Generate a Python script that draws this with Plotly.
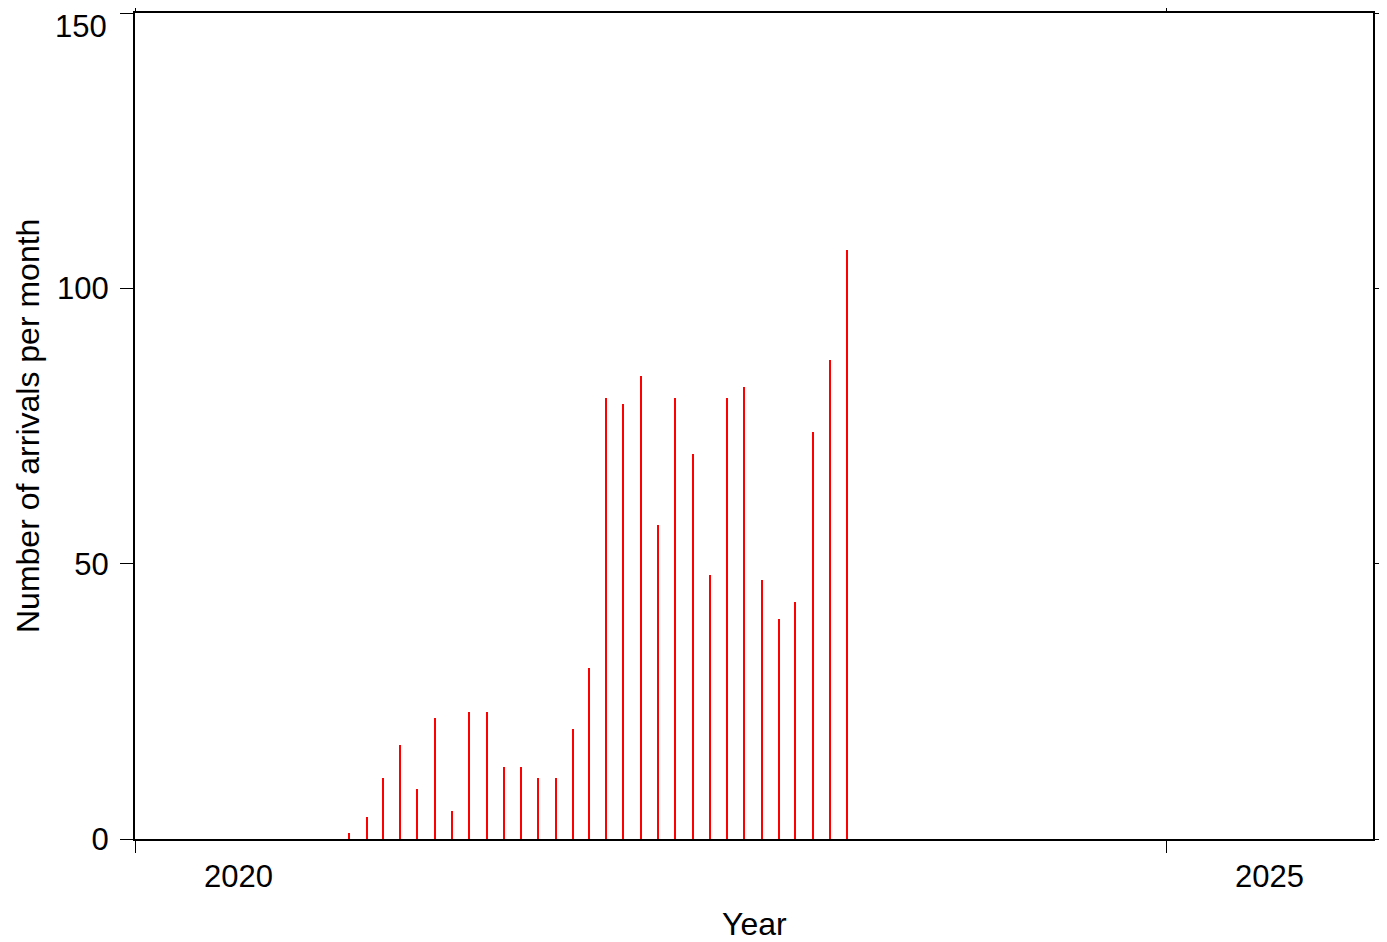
import plotly.graph_objects as go

# Monthly arrival counts, Jan 2021 - Jun 2023
months = [f"{y}-{m:02d}-15" for y in (2021, 2022, 2023) for m in range(1, 13)][:30]
counts = [1, 4, 11, 17, 9, 22, 5, 23, 23, 13, 13, 11,
          11, 20, 31, 80, 79, 84, 57, 80, 70, 48, 80, 82,
          47, 40, 43, 74, 87, 107]

year_labels = ["2020", "2025"]
year_label_pos = ["2020-07-02", "2025-07-02"]
year_ticks = ["2020-01-01", "2025-01-01"]
y_ticks = [0, 50, 100, 150]
y_ticktext = ["0", "50", "100", ""]   # "150" drawn separately so it is not clipped

FONT = "Liberation Sans, Arial, Helvetica, sans-serif"
DAY_MS = 86400000

fig = go.Figure()
fig.add_trace(go.Bar(
    x=months, y=counts,
    width=[2.4 * DAY_MS] * len(counts),
    marker=dict(color="#ff0000", line=dict(width=0)),
    showlegend=False,
))

# page body has an 8px margin, so the plot area is placed 8px up/left
fig.update_layout(
    width=1387, height=942,
    margin=dict(l=127, r=22, t=5, b=111, autoexpand=False),
    paper_bgcolor="white", plot_bgcolor="white",
    font=dict(family=FONT, size=31, color="black"),
    bargap=0,
    xaxis=dict(
        type="date",
        range=["2020-01-01", "2026-01-01"],
        tickvals=year_ticks,
        showticklabels=False,
        ticks="outside", ticklen=12, tickwidth=1, tickcolor="black",
        showline=True, linewidth=2, linecolor="black", mirror="allticks",
        showgrid=False, zeroline=False, automargin=False,
    ),
    yaxis=dict(
        range=[0, 150],
        tickvals=y_ticks, ticktext=y_ticktext,
        ticks="outside", ticklen=13, tickwidth=1, tickcolor="black",
        showline=True, linewidth=2, linecolor="black", mirror="allticks",
        showgrid=False, zeroline=False, automargin=False,
        ticklabelstandoff=5,
        tickfont=dict(family=FONT, size=31),
    ),
)

fig.add_annotation(x=0, y=y_ticks[-1], xref="paper", yref="y", text=str(y_ticks[-1]),
                   showarrow=False, xanchor="right", yanchor="top", borderpad=0,
                   xshift=-27, yshift=5, font=dict(family=FONT, size=31))

for lab, pos in zip(year_labels, year_label_pos):
    fig.add_annotation(x=pos, y=0, xref="x", yref="paper", text=lab,
                       showarrow=False, xanchor="center", yanchor="middle",
                       yshift=-37, font=dict(family=FONT, size=31))

fig.add_annotation(x=0.5, y=0, xref="paper", yref="paper", text="Year",
                   showarrow=False, xanchor="center", yanchor="bottom",
                   yshift=-105, font=dict(family=FONT, size=32))
fig.add_annotation(x=0, y=0.5, xref="paper", yref="paper",
                   text="Number of arrivals per month", textangle=-90,
                   showarrow=False, xanchor="left", yanchor="middle",
                   xshift=-127, font=dict(family=FONT, size=32))

fig.write_html("out.html")
